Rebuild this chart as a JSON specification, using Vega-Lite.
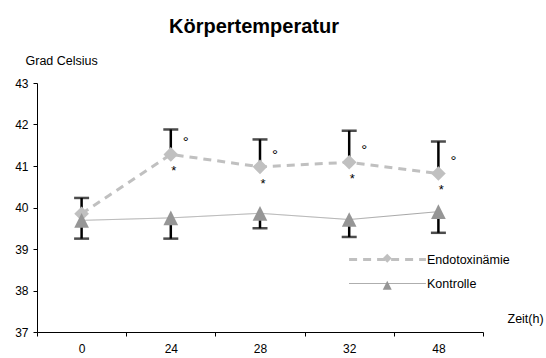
{
  "$schema": "https://vega.github.io/schema/vega-lite/v6.json",
  "width": 446,
  "height": 249,
  "autosize": "none",
  "padding": {"left": 37, "top": 83, "right": 63, "bottom": 26},
  "background": "white",
  "title": {
    "text": "Körpertemperatur",
    "font": "Liberation Sans",
    "fontSize": 20,
    "fontWeight": "bold",
    "color": "black",
    "anchor": "middle",
    "frame": "group",
    "dx": -6,
    "baseline": "alphabetic",
    "offset": 1
  },
  "config": {
    "view": {"stroke": null},
    "font": "Liberation Sans",
    "axis": {
      "domainColor": "black",
      "domainWidth": 1,
      "tickColor": "black",
      "tickWidth": 1,
      "tickSize": 4,
      "grid": false,
      "labelFont": "Liberation Sans",
      "labelFontSize": 12,
      "labelColor": "black",
      "titleFont": "Liberation Sans",
      "titleFontSize": 12.5,
      "titleFontWeight": "normal",
      "titleColor": "black"
    },
    "legend": {"padding": 0, "labelFont": "Liberation Sans", "labelFontSize": 12.5, "labelColor": "black", "rowPadding": 11}
  },
  "data": {
    "values": [
      {"zeit": 0, "gruppe": "Endotoxinämie", "wert": 39.85, "grenze": 40.23, "stern": "", "kreis": ""},
      {"zeit": 24, "gruppe": "Endotoxinämie", "wert": 41.28, "grenze": 41.88, "stern": "*", "kreis": "°"},
      {"zeit": 28, "gruppe": "Endotoxinämie", "wert": 40.98, "grenze": 41.64, "stern": "*", "kreis": "°"},
      {"zeit": 32, "gruppe": "Endotoxinämie", "wert": 41.09, "grenze": 41.85, "stern": "*", "kreis": "°"},
      {"zeit": 48, "gruppe": "Endotoxinämie", "wert": 40.82, "grenze": 41.59, "stern": "*", "kreis": "°"},
      {"zeit": 0, "gruppe": "Kontrolle", "wert": 39.69, "grenze": 39.25, "stern": "", "kreis": ""},
      {"zeit": 24, "gruppe": "Kontrolle", "wert": 39.75, "grenze": 39.25, "stern": "", "kreis": ""},
      {"zeit": 28, "gruppe": "Kontrolle", "wert": 39.86, "grenze": 39.5, "stern": "", "kreis": ""},
      {"zeit": 32, "gruppe": "Kontrolle", "wert": 39.71, "grenze": 39.29, "stern": "", "kreis": ""},
      {"zeit": 48, "gruppe": "Kontrolle", "wert": 39.9, "grenze": 39.39, "stern": "", "kreis": ""}
    ]
  },
  "encoding": {
    "x": {
      "field": "zeit",
      "type": "ordinal",
      "scale": {"type": "band", "paddingInner": 0, "paddingOuter": 0},
      "axis": {
        "labelAngle": 0,
        "labelPadding": 7,
        "tickBand": "extent",
        "title": "Zeit(h)",
        "titleAlign": "left",
        "titleBaseline": "middle",
        "titleX": 470,
        "titleY": -14
      }
    }
  },
  "layer": [
    {
      "mark": {"type": "rule", "color": "black", "strokeWidth": 2.5},
      "encoding": {
        "y": {
          "field": "wert",
          "type": "quantitative",
          "scale": {"domain": [37, 43], "nice": false, "zero": false},
          "axis": {
            "values": [37, 38, 39, 40, 41, 42, 43],
            "labelPadding": 5,
            "title": "Grad Celsius",
            "titleAngle": 0,
            "titleAlign": "left",
            "titleBaseline": "middle",
            "titleX": -12,
            "titleY": -23
          }
        },
        "y2": {"field": "grenze"}
      }
    },
    {
      "mark": {"type": "tick", "orient": "horizontal", "color": "black", "thickness": 2.5, "size": 15},
      "encoding": {"y": {"field": "grenze", "type": "quantitative"}}
    },
    {
      "mark": {"type": "line", "strokeCap": "butt"},
      "encoding": {
        "y": {"field": "wert", "type": "quantitative"},
        "color": {
          "field": "gruppe",
          "type": "nominal",
          "scale": {"domain": ["Endotoxinämie", "Kontrolle"], "range": ["#c0c0c0", "#a6a6a6"]},
          "legend": {
            "orient": "none",
            "legendX": 343,
            "legendY": 169,
            "title": null,
            "symbolType": "M-6.4,0L6.4,0",
            "symbolSize": 144,
            "labelOffset": 32
          }
        },
        "strokeDash": {
          "field": "gruppe",
          "type": "nominal",
          "scale": {"domain": ["Endotoxinämie", "Kontrolle"], "range": [[8, 6], [1, 0]]}
        },
        "strokeWidth": {
          "field": "gruppe",
          "type": "nominal",
          "scale": {"domain": ["Endotoxinämie", "Kontrolle"], "range": [3, 1]}
        }
      }
    },
    {
      "mark": {"type": "point", "filled": true, "opacity": 1, "size": 215, "strokeWidth": 0},
      "encoding": {
        "y": {"field": "wert", "type": "quantitative"},
        "shape": {
          "field": "gruppe",
          "type": "nominal",
          "scale": {"range": ["diamond", "M-1,1L0,-1L1,1Z"]},
          "legend": {
            "orient": "none",
            "legendX": 344,
            "legendY": 169,
            "title": null,
            "symbolSize": 80,
            "labelExpr": "''"
          }
        },
        "fill": {
          "field": "gruppe",
          "type": "nominal",
          "scale": {"range": ["#c0c0c0", "#969696"]}
        }
      }
    },
    {
      "mark": {"type": "text", "fontSize": 13, "dx": 3, "dy": 17, "color": "black"},
      "encoding": {
        "y": {"field": "wert", "type": "quantitative"},
        "text": {"field": "stern"}
      }
    },
    {
      "mark": {"type": "text", "fontSize": 15, "dx": 15, "dy": -12, "color": "black"},
      "encoding": {
        "y": {"field": "wert", "type": "quantitative"},
        "text": {"field": "kreis"}
      }
    }
  ]
}
